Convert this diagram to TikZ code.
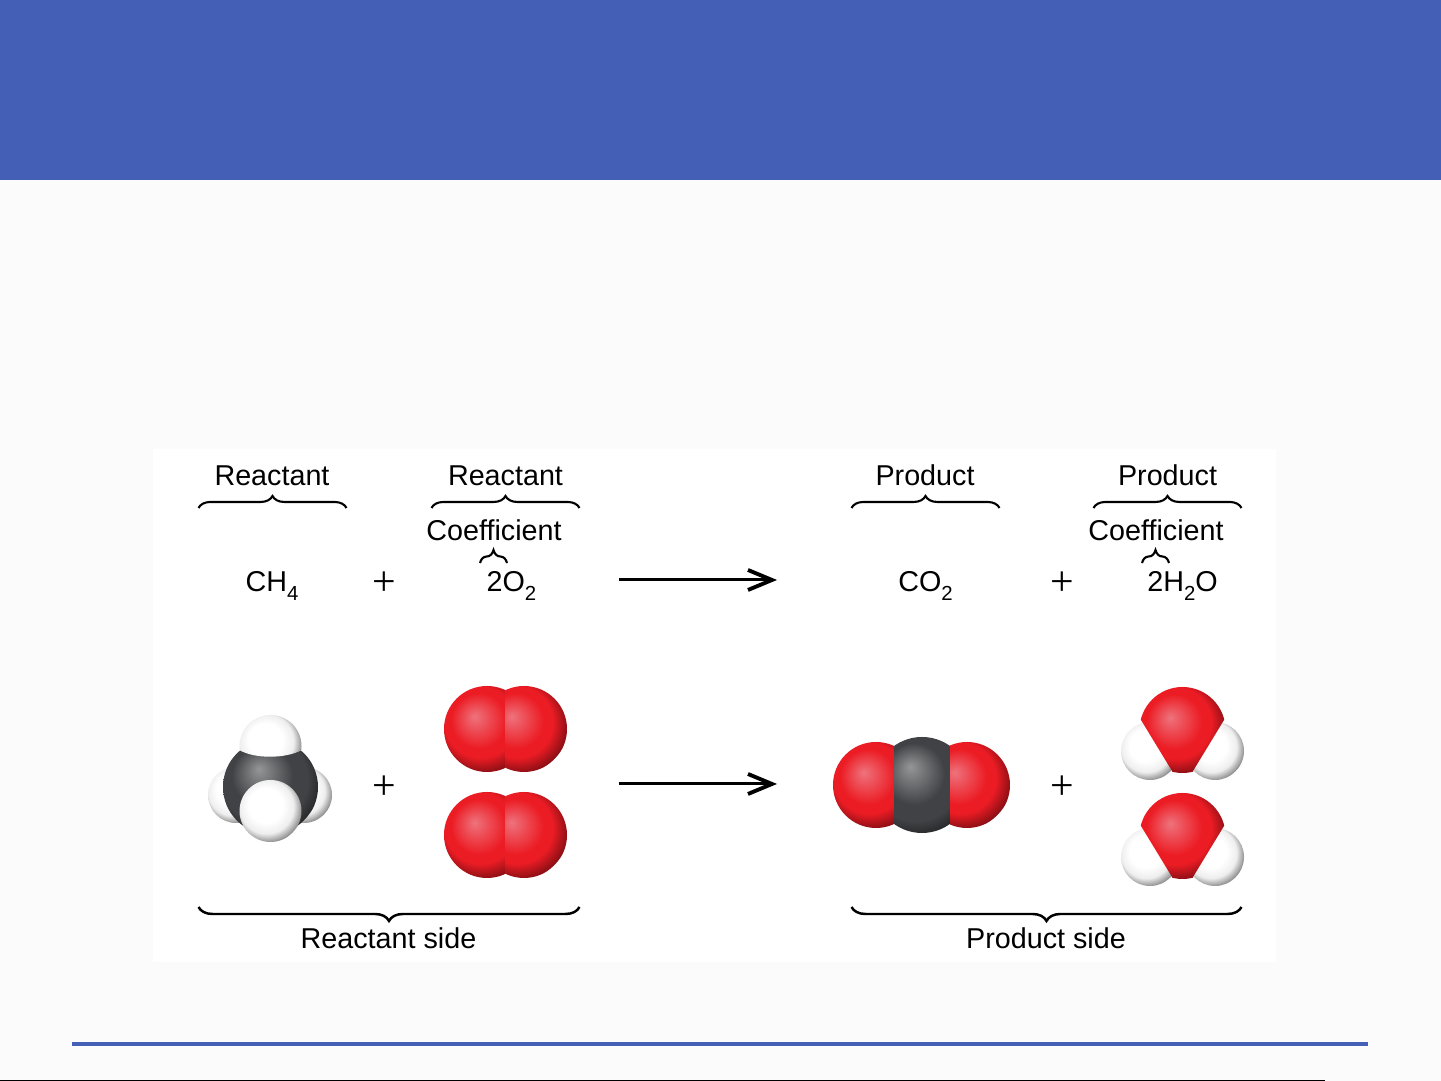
\documentclass[tikz,border=0pt]{standalone}
\usepackage{fontspec}
\setmainfont{Liberation Sans}
\newfontfamily\plusfont{Liberation Serif}
\usetikzlibrary{arrows.meta,calc,decorations.pathreplacing}
\definecolor{bandblue}{RGB}{68,96,182}
\definecolor{pagegrey}{RGB}{251,251,251}
\definecolor{redhigh}{RGB}{238,115,125}
\definecolor{redmain}{RGB}{236,28,36}
\definecolor{rededge}{RGB}{135,14,20}
\definecolor{whitemain}{RGB}{238,238,238}
\definecolor{whiteedge}{RGB}{135,135,135}
\definecolor{greyhigh}{RGB}{150,150,152}
\definecolor{greymain}{RGB}{64,66,69}
\definecolor{greyedge}{RGB}{40,41,43}
\pgfdeclareradialshading{redball}{\pgfpoint{-4bp}{4bp}}{color(0bp)=(redhigh); color(14bp)=(redmain); color(18bp)=(redmain); color(25bp)=(rededge)}
\pgfdeclareradialshading{whiteball}{\pgfpoint{-2bp}{3bp}}{color(0bp)=(white); color(12bp)=(white); color(19bp)=(whitemain); color(25bp)=(whiteedge)}
\pgfdeclareradialshading{greyball}{\pgfpoint{-3bp}{6bp}}{color(0bp)=(greyhigh); color(14bp)=(greymain); color(20bp)=(greymain); color(25bp)=(greyedge)}
\def\atom[#1](#2)(#3){\begin{scope}\clip (#2) circle (#3); \shade[shading=#1] ($(#2)+({-0.11*#3},{0.11*#3})$) circle ({1.15*#3});\end{scope}}
\def\chemsub#1{\raisebox{-2.5pt}{\fontsize{5.8}{7}\selectfont #1}}
\tikzset{
	lbl/.style={inner sep=0, anchor=base, font=\fontsize{8.17}{10}\selectfont},
	plussign/.style={inner sep=0, anchor=base, font=\plusfont\fontsize{11.9}{14}\selectfont},
	bracetop/.style={line width=0.6pt, decorate, decoration={brace, amplitude=0.12cm}},
	bracesmall/.style={line width=0.6pt, decorate, decoration={brace, amplitude=0.13cm}},
	bracelow/.style={line width=0.7pt, decorate, decoration={brace, mirror, amplitude=0.14cm}},
	yieldarrow/.style={line width=0.85pt, -{Straight Barb[length=0.24cm, width=0.2cm, line width=1.1pt]}}
}

\begin{document}
\begin{tikzpicture}
			%%%%% SLIDE %%%%%
			
			\useasboundingbox (0, 0) rectangle (14.41, 10.81);
			\fill[pagegrey] (0, 0) rectangle (14.41, 10.81);
			\fill[bandblue] (0, 9.01) rectangle (14.41, 10.81);
			\fill[bandblue] (0.72, 0.35) rectangle (13.68, 0.39);
			\fill[black] (0, 0) rectangle (13.25, 0.01);
			\fill[white] (1.53, 1.19) rectangle (12.76, 6.32);
			
			%%%%% LABELS %%%%%
			
			\node[lbl] (reactantone) at (2.72, 5.95) {Reactant};
			\node[lbl] (reactanttwo) at (5.055, 5.95) {Reactant};
			\node[lbl] (productone) at (9.25, 5.95) {Product};
			\node[lbl] (producttwo) at (11.675, 5.95) {Product};
			
			\node[lbl] (coefone) at (4.94, 5.40) {Coefficient};
			\node[lbl] (coeftwo) at (11.56, 5.40) {Coefficient};
			
			\node[lbl] (methane) at (2.72, 4.89) {CH\chemsub{4}};
			\node[lbl] (oxygen) at (5.115, 4.89) {2O\chemsub{2}};
			\node[lbl] (carbondioxide) at (9.255, 4.89) {CO\chemsub{2}};
			\node[lbl] (water) at (11.825, 4.89) {2H\chemsub{2}O};
			
			\node[plussign] (plusa) at (3.84, 4.858) {+};
			\node[plussign] (plusb) at (10.62, 4.858) {+};
			\node[plussign] (plusc) at (3.84, 2.815) {+};
			\node[plussign] (plusd) at (10.62, 2.815) {+};
			
			\node[lbl] (reactantside) at (3.885, 1.32) {Reactant side};
			\node[lbl] (productside) at (10.46, 1.32) {Product side};
			
			%%%%% BRACES %%%%%
			
			\coordinate (ra) at (1.985, 5.73);
			\coordinate (rb) at (3.465, 5.73);
			\coordinate (rc) at (4.315, 5.73);
			\coordinate (rd) at (5.795, 5.73);
			\coordinate (pa) at (8.515, 5.73);
			\coordinate (pb) at (9.995, 5.73);
			\coordinate (pc) at (10.935, 5.73);
			\coordinate (pd) at (12.415, 5.73);
			\draw[bracetop] (ra) -- (rb);
			\draw[bracetop] (rc) -- (rd);
			\draw[bracetop] (pa) -- (pb);
			\draw[bracetop] (pc) -- (pd);
			
			\coordinate (ca) at (4.80, 5.18);
			\coordinate (cb) at (5.07, 5.18);
			\coordinate (cc) at (11.42, 5.18);
			\coordinate (cd) at (11.69, 5.18);
			\draw[bracesmall] (ca) -- (cb);
			\draw[bracesmall] (cc) -- (cd);
			
			\coordinate (sa) at (1.985, 1.74);
			\coordinate (sb) at (5.795, 1.74);
			\coordinate (sc) at (8.515, 1.74);
			\coordinate (sd) at (12.415, 1.74);
			\draw[bracelow] (sa) -- (sb);
			\draw[bracelow] (sc) -- (sd);
			
			%%%%% ARROWS %%%%%
			
			\coordinate (arrowa) at (6.19, 5.01);
			\coordinate (arrowb) at (7.77, 5.01);
			\coordinate (arrowc) at (6.19, 2.97);
			\coordinate (arrowd) at (7.77, 2.97);
			\draw[yieldarrow] (arrowa) -- (arrowb);
			\draw[yieldarrow] (arrowc) -- (arrowd);
			
			%%%%% METHANE %%%%%
			
			\atom[whiteball](2.36, 2.86)(0.28);
			\atom[whiteball](3.04, 2.86)(0.28);
			\atom[greyball](2.705, 2.94)(0.475);
			\begin{scope}
				\clip (2.30, 7.00) -- (3.10, 7.00) -- (3.10, 3.31) -- (3.02, 3.31) .. controls (2.85, 3.22) and (2.55, 3.22) .. (2.39, 3.31) -- (2.30, 3.31) -- cycle;
				\atom[whiteball](2.705, 3.35)(0.31);
			\end{scope}
			\atom[whiteball](2.705, 2.70)(0.31);
			
			%%%%% OXYGEN %%%%%
			
			\foreach \ymol in {3.52, 2.46} {
				\begin{scope}
					\clip (4.00, \ymol-0.6) rectangle (5.05, \ymol+0.6);
					\atom[redball](4.87, \ymol)(0.43);
				\end{scope}
				\begin{scope}
					\clip (5.05, \ymol-0.6) rectangle (6.00, \ymol+0.6);
					\atom[redball](5.24, \ymol)(0.43);
				\end{scope}
			}
			
			%%%%% CARBON DIOXIDE %%%%%
			
			\atom[redball](8.76, 2.96)(0.43);
			\atom[redball](9.67, 2.96)(0.43);
			\begin{scope}
				\clip (8.943, 2.00) rectangle (9.493, 4.00);
				\atom[greyball](9.22, 2.96)(0.48);
			\end{scope}
			
			%%%%% WATER %%%%%
			
			\foreach \ymol in {0, -1.06} {
				\begin{scope}[yshift=\ymol cm]
					\atom[whiteball](11.50, 3.30)(0.29);
					\atom[whiteball](12.15, 3.30)(0.29);
					\begin{scope}
						\clip (11.30, 4.20) -- (12.35, 4.20) -- (12.24, 3.61) -- (11.93, 3.10) -- (11.93, 3.00) -- (11.72, 3.00) -- (11.72, 3.10) -- (11.41, 3.61) -- cycle;
						\atom[redball](11.825, 3.51)(0.43);
					\end{scope}
				\end{scope}
			}
			
			%%%%% END %%%%%
		\end{tikzpicture}
\end{document}
